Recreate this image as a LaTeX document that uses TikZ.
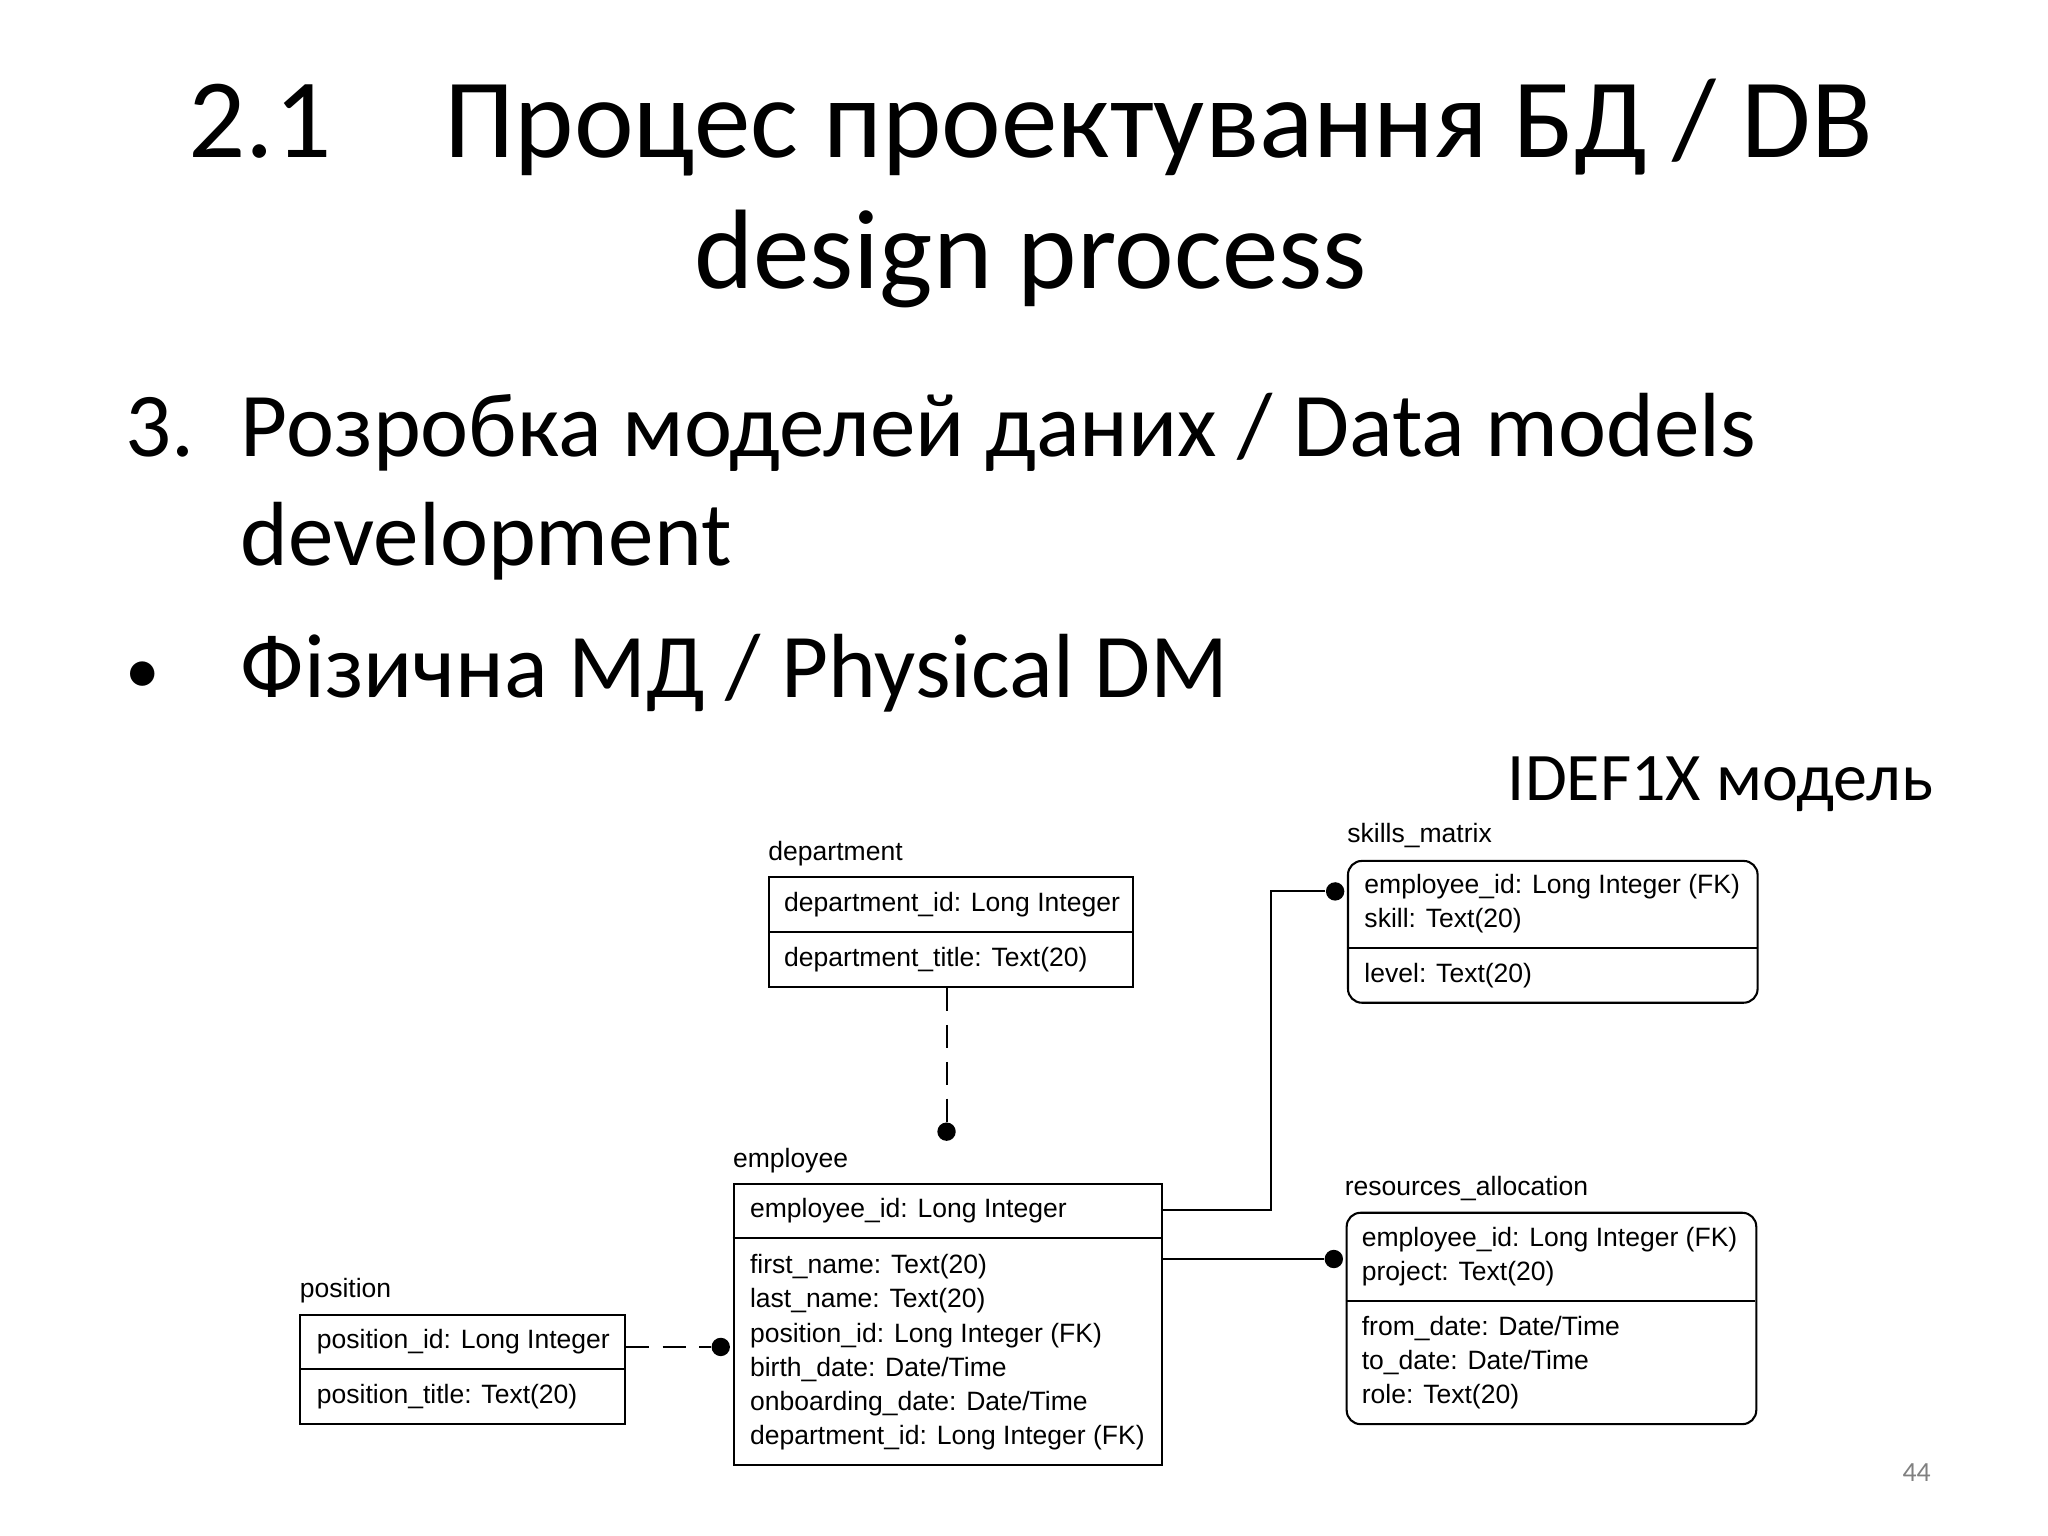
\documentclass[tikz,border=0pt]{standalone}
\usepackage{fontspec}
\setmainfont{Carlito}
\newfontfamily\arialf{Liberation Sans}
\tikzset{
 tbl/.style={draw=black, line width=0.9pt, anchor=north west, inner sep=0pt},
 rtbl/.style={tbl, rounded corners=6pt},
 fld/.style={anchor=west, font=\arialf\fontsize{11.5}{14}\selectfont, inner sep=0pt},
 tname/.style={anchor=south west, font=\arialf\fontsize{11.5}{14}\selectfont, inner sep=0pt},
 dot/.style={circle, fill=black, inner sep=0pt, minimum size=0.28cm},
 conn/.style={line width=0.9pt},
 dconn/.style={conn, dash pattern=on 10pt off 6pt},
 body/.style={anchor=base west,font=\fontsize{39.5}{46}\selectfont,inner sep=0pt}
}
\begin{document}
\begin{tikzpicture}[x=0.02cm,y=-0.02cm]
\fill[white] (0,0) rectangle (1560,1170);
\useasboundingbox (0,0) rectangle (1560,1170);
% titles
\node[font=\fontsize{49}{58}\selectfont] (t1) at (785,97) {2.1\quad Процес проектування БД / DB};
\node[font=\fontsize{49}{58}\selectfont] (t2) at (785,197) {design process};
\node[body] (n3) at (95,348) {3.};
\node[body] (b1) at (183,348) {Розробка моделей даних / Data models};
\node[body] (b2) at (183,431) {development};
\node[body,font=\fontsize{30}{36}\selectfont] (bul) at (95,528) {•};
\node[body] (b3) at (183,531) {Фізична МД / Physical DM};
\node[anchor=east,font=\fontsize{29.5}{34}\selectfont,inner sep=0pt] (idef) at (1473,597) {IDEF1X модель};
\node[font=\fontsize{12}{14}\selectfont,text=gray] (pg) at (1460,1122) {44};
% department
\node[tbl,minimum width=277*0.02cm,minimum height=84*0.02cm] (dep) at (585,667) {};
\draw[conn] (585,710) -- (862,710);
\node[tname] (depn) at (585,660) {department};
\node[fld] (d1) at (597,689) {department\_id: Long Integer};
\node[fld] (d2) at (597,731) {department\_title: Text(20)};
% employee
\node[tbl,minimum width=326*0.02cm,minimum height=214*0.02cm] (emp) at (558,901) {};
\draw[conn] (558,943) -- (884,943);
\node[tname] (empn) at (558,894) {employee};
\node[fld] (e0) at (571,922) {employee\_id: Long Integer};
\node[fld] (e1) at (571,965) {first\_name: Text(20)};
\node[fld] (e2) at (571,991) {last\_name: Text(20)};
\node[fld] (e3) at (571,1017) {position\_id: Long Integer (FK)};
\node[fld] (e4) at (571,1043) {birth\_date: Date/Time};
\node[fld] (e5) at (571,1069) {onboarding\_date: Date/Time};
\node[fld] (e6) at (571,1095) {department\_id: Long Integer (FK)};
% position
\node[tbl,minimum width=247*0.02cm,minimum height=83*0.02cm] (pos) at (228,1001) {};
\draw[conn] (228,1043) -- (475,1043);
\node[tname] (posn) at (228,993) {position};
\node[fld] (p1) at (241,1022) {position\_id: Long Integer};
\node[fld] (p2) at (241,1064) {position\_title: Text(20)};
% skills_matrix
\node[rtbl,minimum width=312*0.02cm,minimum height=108*0.02cm] (sk) at (1026,655) {};
\draw[conn] (1026,722) -- (1338,722);
\node[tname] (skn) at (1026,646) {skills\_matrix};
\node[fld] (s1) at (1039,675) {employee\_id: Long Integer (FK)};
\node[fld] (s2) at (1039,701) {skill: Text(20)};
\node[fld] (s3) at (1039,743) {level: Text(20)};
% resources_allocation
\node[rtbl,minimum width=312*0.02cm,minimum height=161*0.02cm] (ra) at (1025,923) {};
\draw[conn] (1025,991) -- (1337,991);
\node[tname] (ran) at (1024,915) {resources\_allocation};
\node[fld] (r1) at (1037,944) {employee\_id: Long Integer (FK)};
\node[fld] (r2) at (1037,970) {project: Text(20)};
\node[fld] (r3) at (1037,1012) {from\_date: Date/Time};
\node[fld] (r4) at (1037,1038) {to\_date: Date/Time};
\node[fld] (r5) at (1037,1064) {role: Text(20)};
% connectors
\node[dot] (dd) at (721,862) {};
\draw[dconn] (dep.south -| dd) -- (dd);
\node[dot] (pd) at (549,1026) {};
\draw[dconn] (pos.east |- pd) -- (pd);
\node[dot] (sd) at (1017,679) {};
\draw[conn] (884,922) -- (968,922) -- (968,679) -- (sd);
\node[dot] (rd) at (1016,959) {};
\draw[conn] (emp.east |- rd) -- (rd);
\end{tikzpicture}
\end{document}
